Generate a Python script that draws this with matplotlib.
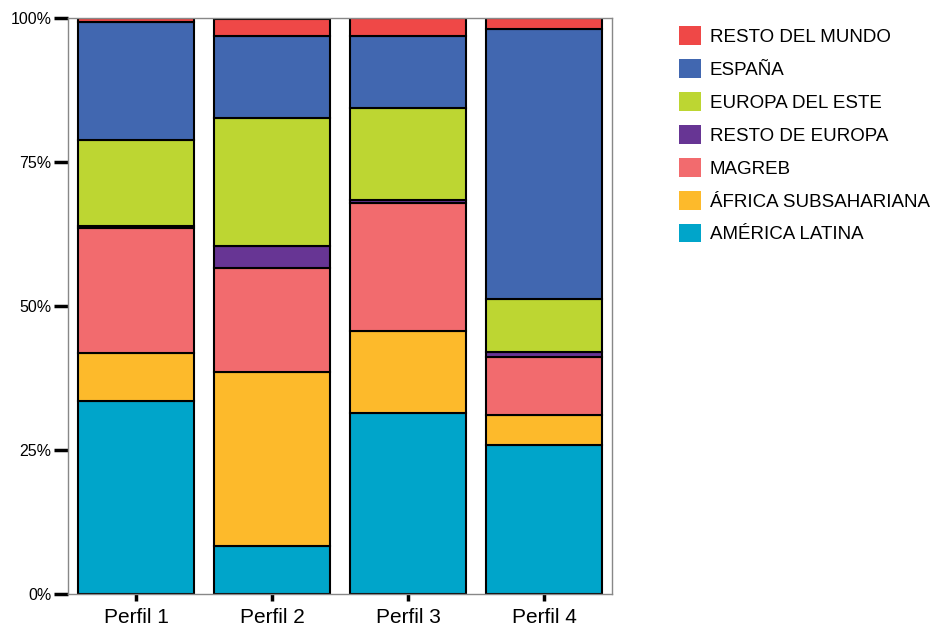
import matplotlib
matplotlib.use('Agg')
import matplotlib.pyplot as plt
import numpy as np
from matplotlib.patches import Patch

plt.rcParams['font.family'] = ['Liberation Sans', 'DejaVu Sans']

perfiles = ['Perfil 1', 'Perfil 2', 'Perfil 3', 'Perfil 4']

# stacking order, bottom to top (percent of each profile)
america_latina = [33.5, 8.3, 31.4, 25.9]
africa_subsahariana = [8.3, 30.3, 14.2, 5.2]
magreb = [21.7, 18.0, 22.2, 10.0]
resto_europa = [0.4, 3.8, 0.6, 1.0]
europa_este = [15.0, 22.2, 15.9, 9.1]
espana = [20.35, 14.2, 12.6, 46.9]
resto_mundo = [0.75, 3.1, 3.1, 1.9]

series = [
    ('AMÉRICA LATINA', america_latina, '#00a5ca'),
    ('ÁFRICA SUBSAHARIANA', africa_subsahariana, '#fdba2b'),
    ('MAGREB', magreb, '#f26b6e'),
    ('RESTO DE EUROPA', resto_europa, '#673594'),
    ('EUROPA DEL ESTE', europa_este, '#bdd632'),
    ('ESPAÑA', espana, '#4167b0'),
    ('RESTO DEL MUNDO', resto_mundo, '#ef4847'),
]

fig = plt.figure(figsize=(9.41, 6.26), dpi=100)
ax = fig.add_axes([0.0723, 0.0511, 0.578, 0.9201])

x = np.arange(len(perfiles))
bottom = np.zeros(len(perfiles))
for name, vals, col in series:
    vals = np.array(vals)
    ax.bar(x, vals, 0.85, bottom=bottom, color=col, edgecolor='black',
           linewidth=1.5, label=name)
    bottom += vals

ax.set_xlim(-0.5, 3.5)
ax.set_ylim(0, 100)
ax.set_xticks(x, perfiles, fontsize=15)
ax.set_yticks([0, 25, 50, 75, 100], ['0%', '25%', '50%', '75%', '100%'], fontsize=11.5)
ax.tick_params(axis='y', length=10, width=2.5, direction='out', pad=2)
ax.tick_params(axis='x', length=5, width=2.5, direction='out', pad=5)
for sp in ax.spines.values():
    sp.set_color('#888888')
    sp.set_linewidth(1)

handles = [Patch(facecolor=c, edgecolor='none', label=n) for n, v, c in series[::-1]]
fig.legend(handles=handles, loc='upper left', bbox_to_anchor=(0.714, 0.97),
           frameon=False, fontsize=13.5, handlelength=1.17, handleheight=1.17,
           handletextpad=0.45, labelspacing=0.70, borderaxespad=0)

plt.savefig('out.png', dpi=100)
